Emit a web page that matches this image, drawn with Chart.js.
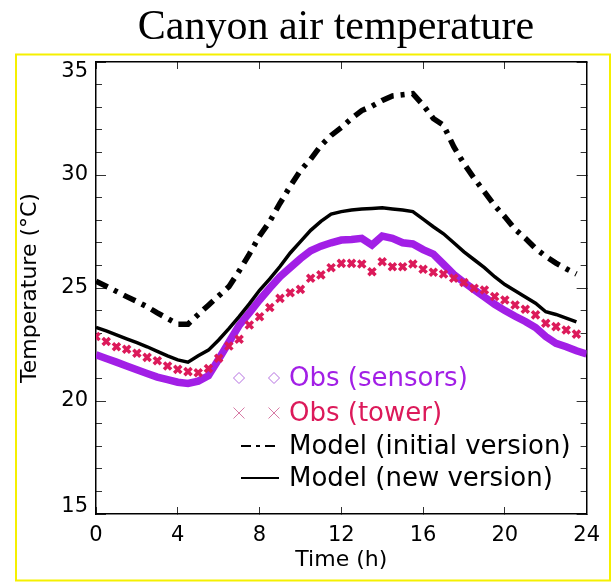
<!DOCTYPE html>
<html>
<head>
<meta charset="utf-8">
<script src="https://cdn.jsdelivr.net/npm/chart.js@4.4.1/dist/chart.umd.min.js"></script>
<style>
  body { margin: 0; background: #fff; }
  #chart { display: block; }
</style>
</head>
<body>
<canvas id="chart" width="616" height="582"></canvas>
<script>
// time axis, every half hour
const hours = [0, 0.5, 1, 1.5, 2, 2.5, 3, 3.5, 4, 4.5, 5, 5.5, 6, 6.5, 7, 7.5, 8, 8.5, 9, 9.5,
    10, 10.5, 11, 11.5, 12, 12.5, 13, 13.5, 14, 14.5, 15, 15.5, 16, 16.5, 17, 17.5, 18, 18.5, 19, 19.5,
    20, 20.5, 21, 21.5, 22, 22.5, 23, 23.5, 24];

const obsSensors = [22.04, 21.88, 21.72, 21.55, 21.38, 21.22, 21.06, 20.95, 20.83, 20.78,
    20.88, 21.12, 21.85, 22.6, 23.34, 23.9, 24.47, 25.0, 25.5, 25.9,
    26.3, 26.65, 26.85, 27.0, 27.12, 27.15, 27.2, 26.9, 27.3, 27.2,
    27.0, 26.95, 26.7, 26.5, 26.05, 25.6, 25.25, 24.92, 24.6, 24.28,
    24.0, 23.75, 23.52, 23.25, 22.85, 22.55, 22.4, 22.22, 22.08];

const obsTower = [22.85, 22.63, 22.4, 22.29, 22.11, 21.93, 21.78, 21.55, 21.4, 21.3,
    21.25, 21.44, 21.89, 22.43, 22.73, 23.36, 23.73, 24.14, 24.54, 24.79,
    24.94, 25.43, 25.58, 25.9, 26.09, 26.09, 26.06, 25.72, 26.16, 25.94,
    25.94, 26.06, 25.83, 25.7, 25.62, 25.43, 25.24, 24.99, 24.91, 24.62,
    24.47, 24.25, 24.06, 23.81, 23.44, 23.29, 23.14, 22.96];

const modelInitial = [25.3, 25.08, 24.85, 24.62, 24.4, 24.17, 23.9, 23.65, 23.4, 23.4,
    23.83, 24.24, 24.65, 25.06, 25.75, 26.5, 27.3, 27.95, 28.75, 29.5,
    30.2, 30.7, 31.3, 31.75, 32.1, 32.5, 32.85, 33.05, 33.3, 33.5,
    33.55, 33.6, 33.1, 32.5, 32.2, 31.25, 30.5, 29.85, 29.25, 28.65,
    28.15, 27.6, 27.2, 26.75, 26.4, 26.1, 25.85, 25.62];

const modelNew = [23.26, 23.1, 22.93, 22.75, 22.58, 22.4, 22.2, 22.0, 21.82, 21.72,
    22.0, 22.25, 22.7, 23.2, 23.73, 24.3, 24.9, 25.4, 25.95, 26.55,
    27.05, 27.55, 27.95, 28.27, 28.38, 28.45, 28.5, 28.52, 28.55, 28.5,
    28.45, 28.38, 28.05, 27.71, 27.4, 27.0, 26.6, 26.25, 25.9, 25.5,
    25.15, 24.88, 24.6, 24.33, 23.95, 23.83, 23.67, 23.5];

const legendLabels = ['Obs (sensors)', 'Obs (tower)', 'Model (initial version)', 'Model (new version)'];

const purple = '#a21fe6';
const crimson = '#dc1a5a';
const sans = 'DejaVu Sans';

function toPoints(vals) {
    return vals.map((v, i) => ({ x: hours[i], y: v }));
}

// title, yellow frame and the hand-placed legend
const overlay = {
    id: 'overlay',
    afterDraw(chart) {
        const c = chart.ctx;
        c.save();
        c.strokeStyle = '#f5f000';
        c.lineWidth = 2;
        c.strokeRect(16, 54.5, 594, 526);

        c.fillStyle = '#000';
        c.font = '42px "Liberation Serif"';
        c.textAlign = 'center';
        c.textBaseline = 'alphabetic';
        c.fillText('Canyon air temperature', 336, 39);

        const rows = [378, 413, 446, 478];
        const sx = [239, 274];
        c.font = '26px "' + sans + '"';
        c.textAlign = 'left';
        c.textBaseline = 'middle';

        // diamonds
        c.strokeStyle = '#b46ee0';
        c.lineWidth = 1;
        sx.forEach(x => {
            c.beginPath();
            c.moveTo(x, rows[0] - 5.5); c.lineTo(x + 5.5, rows[0]);
            c.lineTo(x, rows[0] + 5.5); c.lineTo(x - 5.5, rows[0]);
            c.closePath(); c.stroke();
        });
        // crosses
        c.strokeStyle = '#d77aa5';
        sx.forEach(x => {
            c.beginPath();
            c.moveTo(x - 5.5, rows[1] - 5.5); c.lineTo(x + 5.5, rows[1] + 5.5);
            c.moveTo(x + 5.5, rows[1] - 5.5); c.lineTo(x - 5.5, rows[1] + 5.5);
            c.stroke();
        });
        // line samples
        c.strokeStyle = '#000';
        c.lineWidth = 2;
        c.setLineDash([10, 5, 4, 5]);
        c.beginPath(); c.moveTo(241, rows[2]); c.lineTo(279, rows[2]); c.stroke();
        c.setLineDash([]);
        c.beginPath(); c.moveTo(241, rows[3]); c.lineTo(279, rows[3]); c.stroke();

        const colors = [purple, crimson, '#000', '#000'];
        legendLabels.forEach((t, i) => {
            c.fillStyle = colors[i];
            c.fillText(t, 289, rows[i] + 1);
        });
        c.restore();
    }
};

const tickFont = { family: sans, size: 21 };
const titleFont = { family: sans, size: 22 };

function edgeScale(position, min, max, step, len, showBorder) {
    return {
        type: 'linear', position: position, min: min, max: max, weight: 0,
        ticks: { stepSize: step, display: false },
        grid: { drawOnChartArea: false, drawTicks: true, tickLength: len, tickColor: '#333', tickWidth: 1 },
        border: { display: showBorder, color: '#000', width: 1.5 },
        afterFit: s => { if (s.isHorizontal()) s.height = 0; else s.width = 0; }
    };
}

// end labels of the y axis sit inside the frame, as in the original plot
function nudgeEndLabels(s) {
    const base = Object.getPrototypeOf(s).getPixelForTick;
    s.getPixelForTick = function (i) {
        let p = base.call(this, i);
        if (i === 0) p -= 7;
        if (i === this.ticks.length - 1) p += 10;
        return p;
    };
}

new Chart(document.getElementById('chart'), {
    type: 'line',
    data: {
        datasets: [
            {
                label: legendLabels[0], data: toPoints(obsSensors),
                borderColor: purple, backgroundColor: purple, borderWidth: 7.5,
                pointRadius: 0, order: 4, xAxisID: 'x', yAxisID: 'y'
            },
            {
                label: legendLabels[1], data: toPoints(obsTower),
                showLine: false, pointStyle: 'crossRot', pointRadius: 5,
                borderColor: crimson, pointBorderWidth: 3.5, order: 3, xAxisID: 'x', yAxisID: 'y'
            },
            {
                label: legendLabels[2], data: toPoints(modelInitial),
                borderColor: '#000', borderWidth: 5.5, borderDash: [13, 7, 4, 7],
                pointRadius: 0, order: 1, xAxisID: 'x', yAxisID: 'y'
            },
            {
                label: legendLabels[3], data: toPoints(modelNew),
                borderColor: '#000', borderWidth: 3.5,
                pointRadius: 0, order: 2, xAxisID: 'x', yAxisID: 'y'
            }
        ]
    },
    options: {
        responsive: false,
        animation: false,
        layout: { padding: { top: 62, right: 25, bottom: 0, left: 0 } },
        plugins: { legend: { display: false }, tooltip: { enabled: false } },
        scales: {
            x: {
                type: 'linear', position: 'bottom', min: 0, max: 24, weight: 1,
                ticks: { stepSize: 4, font: tickFont, color: '#000', padding: 16, maxRotation: 0 },
                grid: { drawOnChartArea: false, drawTicks: true, tickLength: -7, tickColor: '#333' },
                border: { display: true, color: '#000', width: 1.5 },
                title: { display: true, text: 'Time (h)', font: titleFont, color: '#000', padding: { top: 0, bottom: 9 } },
                afterFit: s => { s.height = 68; }
            },
            x2: edgeScale('top', 0, 24, 4, -7, true),
            y: {
                type: 'linear', position: 'left', min: 15, max: 35, weight: 1,
                ticks: { stepSize: 5, font: tickFont, color: '#000', padding: 8 },
                grid: { drawOnChartArea: false, drawTicks: false },
                border: { display: true, color: '#000', width: 1.5 },
                title: { display: true, text: 'Temperature (°C)', font: titleFont, color: '#000', padding: { top: 17, bottom: 0 } },
                afterFit: s => { s.width = 96; },
                afterUpdate: nudgeEndLabels
            },
            yMajor: edgeScale('left', 15, 35, 5, -10, false),
            yMinor: edgeScale('left', 15, 35, 1, -6, false),
            y2: edgeScale('right', 15, 35, 5, -10, true),
            y2Minor: edgeScale('right', 15, 35, 1, -6, false)
        }
    },
    plugins: [overlay]
});
</script>
</body>
</html>
